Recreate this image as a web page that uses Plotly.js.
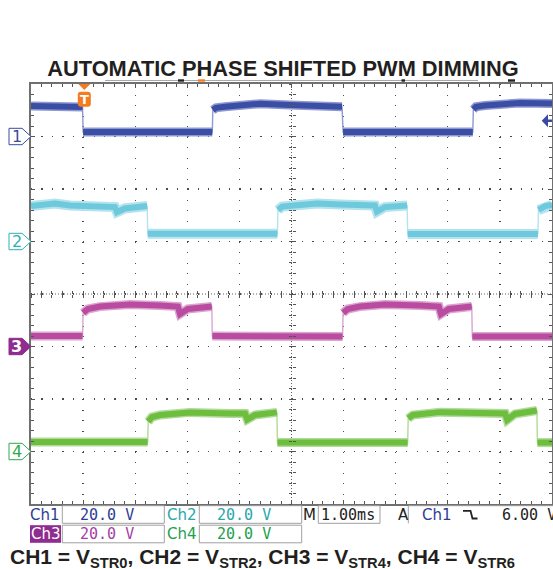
<!DOCTYPE html>
<html><head><meta charset="utf-8">
<script src="https://cdn.plot.ly/plotly-3.0.1.min.js"></script>
<style>html,body{margin:0;padding:0;background:#fff;}#chart{width:553px;height:569px;}</style>
</head><body><div id="chart"></div>
<script>
// ---------------- data (time in ms, voltage in V) ----------------
const timeCh1 = [0, 0.56, 0.99, 1.00, 2.30, 3.48, 3.49, 3.55, 3.72, 4.11, 4.17, 4.40, 4.97, 5.55, 5.97, 5.99, 7.20, 8.48, 8.49, 8.54, 8.71, 9.10, 9.16, 9.39, 10.0];
const voltCh1 = [11.6, 11.4, 11.2, 1.7, 1.5, 1.7, 10.1, 10.9, 11.3, 11.8, 12.4, 12.5, 12.0, 11.6, 11.3, 1.7, 1.5, 1.7, 10.3, 11.3, 11.8, 12.3, 12.9, 12.8, 12.6];

const timeCh2 = [0, 0.27, 0.46, 0.75, 1.32, 1.61, 1.65, 1.80, 2.23, 2.24, 3.50, 4.73, 4.74, 4.82, 5.16, 5.49, 5.93, 6.60, 6.64, 6.79, 7.22, 7.23, 8.50, 9.73, 9.74, 9.87, 10.0];
const voltCh2 = [13.5, 13.9, 14.5, 13.7, 13.3, 13.1, 11.2, 12.6, 13.5, 3.0, 2.9, 3.0, 12.0, 13.3, 13.9, 14.5, 14.1, 13.7, 11.4, 13.1, 13.7, 2.9, 2.8, 2.9, 12.0, 13.5, 13.9];

const timeCh3 = [0, 0.99, 1.00, 1.09, 1.32, 1.90, 2.48, 2.82, 2.86, 3.01, 3.47, 3.48, 4.70, 5.98, 5.99, 6.08, 6.31, 6.79, 7.47, 7.83, 7.87, 8.02, 8.46, 8.47, 10.0];
const voltCh3 = [4.0, 4.0, 12.8, 14.3, 15.2, 16.0, 15.6, 15.2, 12.4, 14.3, 15.2, 4.0, 3.8, 3.8, 12.8, 14.3, 15.2, 16.0, 15.6, 15.2, 12.4, 14.3, 15.2, 3.8, 3.8];

const timeCh4 = [0, 2.24, 2.25, 2.32, 2.48, 3.05, 3.82, 4.11, 4.15, 4.30, 4.72, 4.73, 6.00, 7.23, 7.24, 7.33, 7.85, 8.43, 9.10, 9.14, 9.29, 9.71, 9.72, 10.0];
const voltCh4 = [3.6, 3.6, 11.4, 13.1, 13.9, 14.9, 14.5, 14.5, 12.2, 13.9, 14.9, 3.4, 3.4, 3.4, 12.6, 13.9, 15.0, 14.9, 14.5, 12.0, 14.3, 15.6, 3.4, 3.4];

const channelNames = ['Ch1', 'Ch2', 'Ch3', 'Ch4'];
const channelDigits = ['1', '2', '3', '4'];
const voltsPerDiv = [20.0, 20.0, 20.0, 20.0];
const groundDiv = [3, 1, -1, -3];
const timePerDiv = 1.00;      // ms/div
const triggerTime = 1.00;     // ms
const triggerLevel = 6.00;    // V on Ch1
const scaleLabels = ['20.0 V', '20.0 V', '20.0 V', '20.0 V'];
const timebaseLabel = '1.00ms';
const triggerLabel = '6.00 V';
const titleText = 'AUTOMATIC PHASE SHIFTED PWM DIMMING';

// ---------------- styles ----------------
const coreColor = ['#3b4ea6', '#6fc9dc', '#b94ca1', '#6dbd3f'];
const haloColor = ['#9099cf', '#b2e3ee', '#dba5ce', '#b0db98'];
const labelColor = ['#2c3c98', '#27a7ab', '#a540a6', '#23a04c'];
const markerColor = ['#3a4aa0', '#2fb0b8', '#8f2c8f', '#2ea84f'];

const W = 553, H = 569, L = 31, R = 1, T = 84, B = 65;
const PW = W - L - R, PH = H - T - B;
const XDIV = 10, YDIV = 8;
const px2paper = px => (px - L) / PW;
const py2paper = py => (T + PH - py) / PH;
const px2ms = px => (px - L) / PW * XDIV * timePerDiv;
const pyOff = p => p / PH * YDIV;           // pixel length -> divisions
const div2paper = d => (d + YDIV / 2) / YDIV;

const times = [timeCh1, timeCh2, timeCh3, timeCh4];
const volts = [voltCh1, voltCh2, voltCh3, voltCh4];

function splitEdges(t, y, thr) {
  const xs = [], ys = [];
  for (let i = 0; i < t.length; i++) {
    if (i > 0 && Math.abs(y[i] - y[i - 1]) > thr) { xs.push(null); ys.push(null); }
    xs.push(t[i]); ys.push(y[i]);
  }
  return { xs, ys };
}

const traces = [];
for (let c = 0; c < 4; c++) {
  const yd = volts[c].map(v => groundDiv[c] + v / voltsPerDiv[c]);
  const s = splitEdges(times[c], yd, 0.25);
  traces.push({ x: times[c], y: yd, mode: 'lines', line: { color: haloColor[c], width: 1.4 }, hoverinfo: 'skip', showlegend: false });
  traces.push({ x: s.xs, y: s.ys, mode: 'lines', connectgaps: false, line: { color: haloColor[c], width: c === 1 ? 10 : 9 }, hoverinfo: 'skip', showlegend: false });
  traces.push({ x: s.xs, y: s.ys, mode: 'lines', connectgaps: false, line: { color: coreColor[c], width: 6 }, hoverinfo: 'skip', showlegend: false });
}
traces.push({ x: [], y: [], xaxis: 'x2', yaxis: 'y2', showlegend: false });
traces.push({ x: [], y: [], xaxis: 'x3', yaxis: 'y3', showlegend: false });

const shapes = [];
const annotations = [];

// center cross dotted lines
shapes.push({ type: 'line', xref: 'x', yref: 'y', x0: XDIV / 2, x1: XDIV / 2, y0: -4, y1: 4, line: { color: '#606060', width: 1, dash: '1px,2px' }, layer: 'below' });
shapes.push({ type: 'line', xref: 'x', yref: 'y', x0: 0, x1: XDIV, y0: 0, y1: 0, line: { color: '#606060', width: 1, dash: '1px,2px' }, layer: 'below' });

// channel ground markers on left
for (let c = 0; c < 4; c++) {
  const yc = div2paper(groundDiv[c]);
  const hh = 8.2 / PH;
  const x0 = px2paper(9), x1 = px2paper(22), xt = px2paper(31);
  const filled = c === 2;
  shapes.push({
    type: 'path', xref: 'paper', yref: 'paper',
    path: `M ${x0},${yc + hh} L ${x1},${yc + hh} L ${xt},${yc} L ${x1},${yc - hh} L ${x0},${yc - hh} Z`,
    fillcolor: filled ? markerColor[c] : '#ffffff',
    line: { color: markerColor[c], width: 1 }
  });
  annotations.push({
    xref: 'paper', yref: 'paper', x: px2paper(16.5), y: yc, xanchor: 'center', yanchor: 'middle',
    text: channelDigits[c], showarrow: false,
    font: { family: 'DejaVu Sans', size: 16, color: filled ? '#ffffff' : markerColor[c], weight: filled ? 700 : 400 }
  });
}

// trigger "T" marker at top
const tc = triggerTime + px2ms(L + 1.2);
const mpx = 1 * XDIV * timePerDiv / PW; // ms per px
const topY = YDIV / 2;
shapes.push({ type: 'path', xref: 'x', yref: 'y',
  path: `M ${tc - 6 * mpx},${topY} L ${tc + 6 * mpx},${topY} L ${tc},${topY - pyOff(6)} Z`,
  fillcolor: '#f47b20', line: { width: 0 } });
{
  const xa = tc - 6.5 * mpx, xb = tc + 6.5 * mpx, ya = topY - pyOff(7.7), yb = topY - pyOff(22.7), r = 3 * mpx, ry = pyOff(3);
  shapes.push({ type: 'path', xref: 'x', yref: 'y',
    path: `M ${xa + r},${ya} L ${xb - r},${ya} Q ${xb},${ya} ${xb},${ya - ry} L ${xb},${yb + ry} Q ${xb},${yb} ${xb - r},${yb} L ${xa + r},${yb} Q ${xa},${yb} ${xa},${yb + ry} L ${xa},${ya - ry} Q ${xa},${ya} ${xa + r},${ya} Z`,
    fillcolor: '#f47b20', line: { width: 0 } });
  annotations.push({ xref: 'x', yref: 'y', x: tc, y: (ya + yb) / 2, text: '<b>T</b>', showarrow: false,
    font: { family: 'DejaVu Sans', size: 13, color: '#ffffff' }, xanchor: 'center', yanchor: 'middle' });
}

// trigger level arrow on right (Ch1)
{
  const yl = groundDiv[0] + triggerLevel / voltsPerDiv[0];
  const xt = px2ms(541.7), xbse = px2ms(548), xe = px2ms(553);
  const hh = pyOff(6.5), st = pyOff(1.3);
  shapes.push({ type: 'path', xref: 'x', yref: 'y',
    path: `M ${xt},${yl} L ${xbse},${yl + hh} L ${xbse},${yl + st} L ${xe},${yl + st} L ${xe},${yl - st} L ${xbse},${yl - st} L ${xbse},${yl - hh} Z`,
    fillcolor: markerColor[0], line: { width: 0 } });
}

// record-view bar above graticule
shapes.push({ type: 'line', xref: 'paper', yref: 'paper', x0: px2paper(105), x1: px2paper(478), y0: py2paper(80.5), y1: py2paper(80.5), line: { color: '#a8a8a8', width: 1 } });
[[178, 184, '#222'], [198, 205, '#f47b20'], [401.5, 405, '#222'], [508, 515, '#222']].forEach(m => {
  shapes.push({ type: 'rect', xref: 'paper', yref: 'paper', x0: px2paper(m[0]), x1: px2paper(m[1]), y0: py2paper(79.3), y1: py2paper(81.7), fillcolor: m[2], line: { width: 0 } });
});

// bottom readout panel
const boxLine = { color: '#a0a0a0', width: 1 };
const rows = [[505.7, 523.3], [525.2, 542.8]];
function box(x0, x1, r) {
  shapes.push({ type: 'rect', xref: 'paper', yref: 'paper', x0: px2paper(x0), x1: px2paper(x1), y0: py2paper(rows[r][1]), y1: py2paper(rows[r][0]), line: boxLine, fillcolor: 'rgba(0,0,0,0)' });
}
box(62.3, 164.3, 0); box(199.3, 301.7, 0); box(318.3, 380, 0);
box(62.3, 164.3, 1); box(199.3, 301.7, 1);
shapes.push({ type: 'path', xref: 'paper', yref: 'paper',
  path: `M ${px2paper(408.3)},${py2paper(rows[0][1])} L ${px2paper(408.3)},${py2paper(rows[0][0])} L ${px2paper(554)},${py2paper(rows[0][0])}`,
  line: boxLine });
shapes.push({ type: 'rect', xref: 'paper', yref: 'paper', x0: px2paper(30), x1: px2paper(61), y0: py2paper(rows[1][1]), y1: py2paper(rows[1][0]), fillcolor: markerColor[2], line: { width: 0 } });
// falling-slope trigger symbol
shapes.push({ type: 'path', xref: 'paper', yref: 'paper',
  path: `M ${px2paper(463)},${py2paper(510.8)} L ${px2paper(470.5)},${py2paper(510.8)} L ${px2paper(472.5)},${py2paper(518.5)} L ${px2paper(477.5)},${py2paper(518.5)}`,
  line: { color: '#222', width: 1.8 } });

function txt(xpx, ypx, s, color, fam, size) {
  annotations.push({ xref: 'paper', yref: 'paper', x: px2paper(xpx - 2), y: py2paper(ypx), xanchor: 'left', yanchor: 'middle',
    text: s, showarrow: false, font: { family: fam, size: size, color: color } });
}
const rc = [(rows[0][0] + rows[0][1]) / 2, (rows[1][0] + rows[1][1]) / 2];
const labFont = 'DejaVu Sans', valFont = 'DejaVu Sans Mono';
const pos = [[30, 80, 0], [166.7, 216.7, 0], [30.5, 80, 1], [166.7, 216.7, 1]];
for (let c = 0; c < 4; c++) {
  const p = pos[c];
  txt(p[0], rc[p[2]], channelNames[c], c === 2 ? '#ffffff' : labelColor[c], labFont, 15);
  txt(p[1], rc[p[2]], scaleLabels[c], labelColor[c], valFont, 15);
}
txt(303.3, rc[0], 'M', '#222', labFont, 15);
txt(320.7, rc[0], timebaseLabel, '#222', valFont, 15);
txt(398.3, rc[0], 'A', '#222', labFont, 15);
txt(421.7, rc[0], channelNames[0], labelColor[0], labFont, 15);
txt(501.7, rc[0], triggerLabel, '#222', valFont, 15);

// caption
annotations.push({ xref: 'paper', yref: 'paper', x: px2paper(8), y: py2paper(557.5), xanchor: 'left', yanchor: 'middle', showarrow: false,
  text: '<b>CH1 = V<sub>STR0</sub>, CH2 = V<sub>STR2</sub>, CH3 = V<sub>STR4</sub>, CH4 = V<sub>STR6</sub></b>',
  font: { family: 'Liberation Sans, Arial, sans-serif', size: 21, color: '#231f20' } });

const tickCol = '#555';
const baseAxis = { showticklabels: false, zeroline: false, fixedrange: true };
const layout = {
  width: W, height: H, margin: { l: L, r: R, t: T, b: B, pad: 0 },
  paper_bgcolor: '#ffffff', plot_bgcolor: '#ffffff', showlegend: false,
  title: { text: '<b>' + titleText + '</b>', x: 283 / W, xanchor: 'center', xref: 'container', y: 1 - 68.7 / H, yref: 'container', yanchor: 'middle',
    font: { family: 'Liberation Sans, Arial, sans-serif', size: 21.8, color: '#231f20' } },
  xaxis: Object.assign({}, baseAxis, { range: [0, XDIV], tick0: 0, dtick: 1, showgrid: true, gridcolor: '#4a4a4a', gridwidth: 1.3, griddash: '1.3px,9.2px',
    showline: true, linecolor: '#707070', linewidth: 2, mirror: 'allticks', ticks: 'inside', ticklen: 4, tickcolor: tickCol, tickwidth: 1,
    minor: { tick0: 0, dtick: 0.2, ticks: 'inside', ticklen: 3, tickcolor: tickCol, tickwidth: 1, showgrid: false } }),
  yaxis: Object.assign({}, baseAxis, { range: [-YDIV / 2, YDIV / 2], tick0: 0, dtick: 1, showgrid: true, gridcolor: '#4a4a4a', gridwidth: 1.3, griddash: '1.3px,9.12px',
    showline: true, linecolor: '#707070', linewidth: 2, mirror: 'allticks', ticks: 'inside', ticklen: 4, tickcolor: tickCol, tickwidth: 1,
    minor: { tick0: 0, dtick: 0.2, ticks: 'inside', ticklen: 3, tickcolor: tickCol, tickwidth: 1, showgrid: false } }),
  xaxis2: Object.assign({}, baseAxis, { overlaying: 'x', anchor: 'free', position: 0.5, range: [0, XDIV], tick0: 0, dtick: 0.2, ticks: 'inside', ticklen: 3, tickcolor: tickCol, showgrid: false, showline: false }),
  xaxis3: Object.assign({}, baseAxis, { overlaying: 'x', anchor: 'free', position: 0.5, range: [0, XDIV], tick0: 0, dtick: 0.2, ticks: 'outside', ticklen: 3, tickcolor: tickCol, showgrid: false, showline: false }),
  yaxis2: Object.assign({}, baseAxis, { overlaying: 'y', anchor: 'free', position: 0.5, range: [-YDIV / 2, YDIV / 2], tick0: 0, dtick: 0.2, ticks: 'inside', ticklen: 3, tickcolor: tickCol, showgrid: false, showline: false }),
  yaxis3: Object.assign({}, baseAxis, { overlaying: 'y', anchor: 'free', position: 0.5, range: [-YDIV / 2, YDIV / 2], tick0: 0, dtick: 0.2, ticks: 'outside', ticklen: 3, tickcolor: tickCol, showgrid: false, showline: false }),
  shapes: shapes, annotations: annotations
};
Plotly.newPlot('chart', traces, layout, { staticPlot: true, displayModeBar: false });
</script></body></html>
